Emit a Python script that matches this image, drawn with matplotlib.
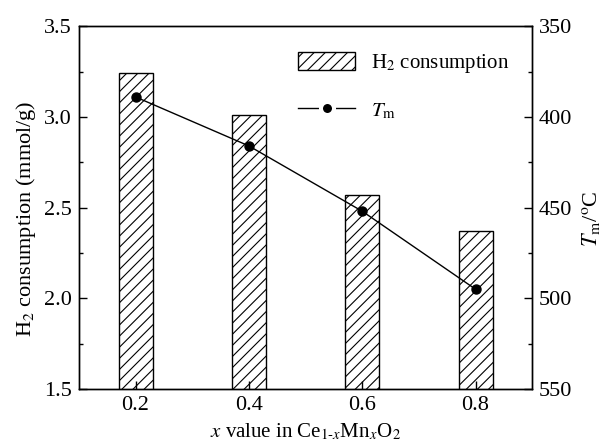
import numpy as np
import matplotlib
matplotlib.use('Agg')
import matplotlib.pyplot as plt
from matplotlib.ticker import MultipleLocator
from matplotlib.lines import Line2D
from matplotlib.patches import Patch

plt.rcParams['font.family'] = ['Liberation Serif', 'DejaVu Serif']
plt.rcParams['mathtext.fontset'] = 'stix'
plt.rcParams['hatch.linewidth'] = 0.8

# dane
x_vals = [0.2, 0.4, 0.6, 0.8]
x_labels = ['0.2', '0.4', '0.6', '0.8']
h2_consumption = [3.24, 3.01, 2.57, 2.37]
t_m = [389, 416, 452, 495]

fig = plt.figure(figsize=(6.02, 4.44), dpi=100)
ax = fig.add_axes([0.131, 0.124, 0.753, 0.817])

bars = ax.bar(x_vals, h2_consumption, width=0.06, color='white',
              edgecolor='black', linewidth=1.0, hatch='///')
ax.set_xlim(0.1, 0.9)
ax.set_ylim(1.5, 3.5)
ax.set_xticks(x_vals)
ax.set_xticklabels(x_labels)
ax.yaxis.set_major_locator(MultipleLocator(0.5))
ax.yaxis.set_minor_locator(MultipleLocator(0.25))
ax.tick_params(axis='both', which='major', direction='in', length=6, width=1,
               labelsize=16, pad=5)
ax.tick_params(axis='y', which='minor', direction='in', length=3, width=1)
ax.set_xlabel('$x$ value in Ce$_{1\u2010x}$Mn$_x$O$_2$', fontsize=15, labelpad=5)
ax.set_ylabel('H$_2$ consumption (mmol/g)', fontsize=16)
ax.yaxis.set_label_coords(-0.091, 0.47)

ax2 = ax.twinx()
ax2.plot(x_vals, t_m, color='black', linewidth=1.0, marker='o', markersize=6.5)
ax2.set_ylim(550, 350)
ax2.yaxis.set_major_locator(MultipleLocator(50))
ax2.yaxis.set_minor_locator(MultipleLocator(25))
ax2.tick_params(axis='y', which='major', direction='in', length=6, width=1,
                labelsize=16, pad=5)
ax2.tick_params(axis='y', which='minor', direction='in', length=3, width=1)
ax2.set_ylabel('$T_\\mathrm{m}$/$^\\mathrm{o}$C', fontsize=16)
ax2.yaxis.set_label_coords(1.105, 0.47)

for a in (ax, ax2):
    for s in a.spines.values():
        s.set_linewidth(1.0)

# legenda - linia z przerwa wokol punktu
h_bar = Patch(facecolor='white', edgecolor='black', linewidth=1.0, hatch='///')
h_line = Line2D([], [], color='black', linewidth=1.0, marker='o',
                markersize=9.4, markerfacecolor='black',
                markeredgecolor='white', markeredgewidth=2.9)
ax2.legend([h_bar, h_line], ['H$_2$ consumption', '$T_\\mathrm{m}$'],
           loc='upper left', bbox_to_anchor=(298 / 602, 1 - 52 / 444),
           bbox_transform=fig.transFigure, frameon=False, borderpad=0,
           borderaxespad=0, fontsize=15, handlelength=2.75, handleheight=0.95,
           labelspacing=1.2, handletextpad=0.75)

fig.savefig('out.png', dpi=100)
